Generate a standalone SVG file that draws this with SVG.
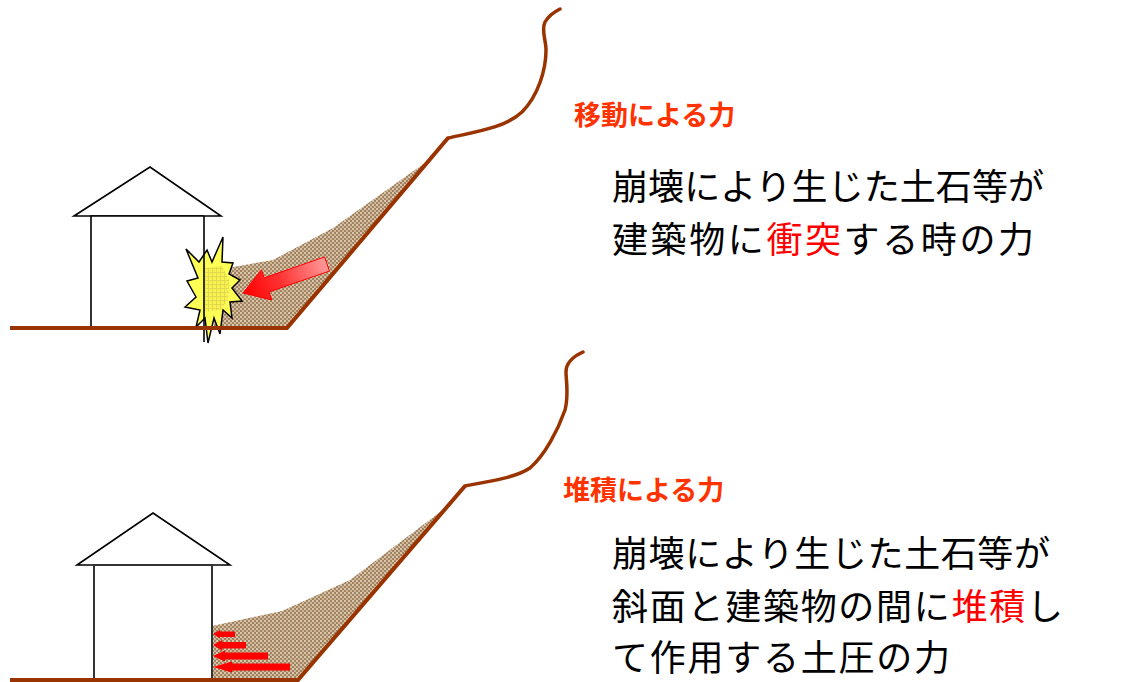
<svg xmlns="http://www.w3.org/2000/svg" width="1128" height="682" viewBox="0 0 1128 682">
  <style>
    .ground { fill: none; stroke: #993300; stroke-width: 4; stroke-linejoin: miter; }
    .cliff { fill: none; stroke: #993300; stroke-width: 3.5; stroke-linecap: round; stroke-linejoin: round; }
    .house { fill: #ffffff; stroke: #000000; stroke-width: 1.6; }
    .wall { fill: none; stroke: #333333; stroke-width: 2; }
    .debris { fill: url(#soil); stroke: none; }
    .label { font-family: "Noto Sans CJK JP", sans-serif; font-weight: 700; font-size: 27px; fill: #ff3300; }
    .body { font-family: "Noto Sans CJK JP", sans-serif; font-size: 36px; fill: #000000; }
    .hot { fill: #ff0000; }
    .push { fill: #ff0000; stroke: none; }
  </style>
  <defs>
    <pattern id="soil" width="4" height="4" patternUnits="userSpaceOnUse">
      <rect width="4" height="4" fill="#a3825f"/>
      <circle cx="1" cy="1" r="1" fill="#eadfca"/>
      <circle cx="3" cy="3" r="1" fill="#dccbb0"/>
    </pattern>
    <pattern id="grid" width="4" height="4" patternUnits="userSpaceOnUse">
      <rect width="4" height="4" fill="#f2ea4c"/>
      <path d="M0 0.5H4M0.5 0V4" stroke="#c8b848" stroke-width="0.8"/>
    </pattern>
    <linearGradient id="hitGrad" x1="243" y1="293" x2="327" y2="264" gradientUnits="userSpaceOnUse">
      <stop offset="0" stop-color="#ff0000"/>
      <stop offset="0.45" stop-color="#ff3333"/>
      <stop offset="1" stop-color="#ff9a9a"/>
    </linearGradient>
  </defs>

  <!-- upper scene: impact of moving debris -->
  <g id="impact-scene">
    <polygon class="debris" points="214,328 214,272 233,267 273,260 333,228 436,155 287,328"/>
    <g id="impact-house">
      <polygon class="house" points="74,216 150,167 221,216"/>
      <polyline class="house" fill="none" points="91,328 91,216 204,216"/>
    </g>
    <g id="burst">
      <polygon points="186,249 199,262 207,250 212,262 223,237 222,262 233,263 229,274 240,280 232,288 242,301 230,302 232,318 223,310 220,334 214,318 208,343 205,318 196,327 200,310 185,307 196,297 187,281 198,278" fill="#ffff55" stroke="#000000" stroke-width="1.5" stroke-linejoin="miter"/>
      <polygon points="205,268 222,266 229,280 228,300 220,310 205,312" fill="url(#grid)" opacity="0.6"/>
    </g>
    <line x1="204" y1="216" x2="204" y2="342" stroke="#000000" stroke-width="1.6"/>
    <polygon id="impact-arrow" points="324.6,256.9 264.2,277.8 261.4,269.8 243,293 271.8,300 269,292 329.4,271.1" fill="url(#hitGrad)" stroke="#ff0000" stroke-width="1"/>
    <polyline class="ground" points="10,328 287,328 448,138"/>
    <path class="cliff" d="M448,138 C475,132 505,128 522,112 C538,96 546,70 546,50 C546,40 541,30 545,22 C549,15 554,12 560,9"/>
  </g>

  <!-- lower scene: pressure of accumulated debris -->
  <g id="deposit-scene">
    <polygon class="debris" points="212,680 212,626 282,611 350,580 452,503 298,680"/>
    <g id="deposit-house">
      <polygon class="house" points="77,565 153,513 230,565"/>
      <polyline class="wall" points="94,680 94,565 212,565 212,680"/>
    </g>
    <g id="pressure-arrows">
      <polygon class="push" points="213,634 220,630 220,631.5 235,631.5 235,637 220,637 220,638.5"/>
      <polygon class="push" points="213,645 222,640 222,642 246,642 246,648.5 222,648.5 222,650.5"/>
      <polygon class="push" points="213,656 225,650.5 225,652.5 268,652.5 268,659.5 225,659.5 225,661.5"/>
      <polygon class="push" points="213,667 232,661.5 232,663.5 290,663.5 290,670.5 232,670.5 232,672.5"/>
    </g>
    <polyline class="ground" points="10,680 298,680 465,486"/>
    <path class="cliff" d="M465,486 C490,481 515,478 530,468 C545,455 558,430 565,410 C569,395 566,380 566,372 C566,364 572,357 583,352"/>
  </g>

  <!-- captions -->
  <g id="impact-caption">
    <text class="label" x="574" y="125">移動による力</text>
    <text class="body" x="612" y="200" textLength="432" lengthAdjust="spacing">崩壊により生じた土石等が</text>
    <text class="body" x="612" y="253" textLength="422" lengthAdjust="spacing">建築物に<tspan class="hot">衝突</tspan>する時の力</text>
  </g>
  <g id="deposit-caption">
    <text class="label" x="563" y="500">堆積による力</text>
    <text class="body" x="612" y="567" textLength="438" lengthAdjust="spacing">崩壊により生じた土石等が</text>
    <text class="body" x="612" y="620" textLength="451" lengthAdjust="spacing">斜面と建築物の間に<tspan class="hot">堆積</tspan>し</text>
    <text class="body" x="612" y="671" textLength="338" lengthAdjust="spacing">て作用する土圧の力</text>
  </g>
</svg>
